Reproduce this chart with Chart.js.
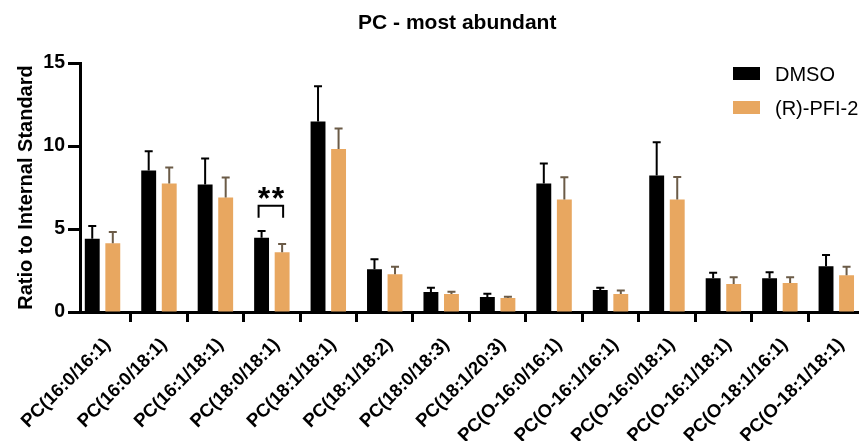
<!DOCTYPE html>
<html>
<head>
<meta charset="utf-8">
<script src="https://cdn.jsdelivr.net/npm/chart.js@4.4.1/dist/chart.umd.min.js"></script>
<style>
  html, body { margin: 0; padding: 0; background: #ffffff; }
  #wrap { width: 864px; height: 441px; }
</style>
</head>
<body>
<div id="wrap"><canvas id="c" width="864" height="441"></canvas></div>
<script>
// Lipid species on the x axis
const categories = [
  'PC(16:0/16:1)', 'PC(16:0/18:1)', 'PC(16:1/18:1)', 'PC(18:0/18:1)',
  'PC(18:1/18:1)', 'PC(18:1/18:2)', 'PC(18:0/18:3)', 'PC(18:1/20:3)',
  'PC(O-16:0/16:1)', 'PC(O-16:1/16:1)', 'PC(O-16:0/18:1)', 'PC(O-16:1/18:1)',
  'PC(O-18:1/16:1)', 'PC(O-18:1/18:1)'
];

// Mean ratio to internal standard and error (upper bar only)
const dmso    = [4.42, 8.52, 7.68, 4.48, 11.48, 2.58, 1.20, 0.90, 7.74, 1.32, 8.22, 2.04, 2.04, 2.76];
const dmsoErr = [0.76, 1.16, 1.56, 0.40, 2.12, 0.60, 0.26, 0.20, 1.20, 0.14, 2.00, 0.32, 0.36, 0.68];
const pfi     = [4.14, 7.74, 6.90, 3.60, 9.82, 2.28, 1.08, 0.84, 6.78, 1.08, 6.78, 1.68, 1.74, 2.22];
const pfiErr  = [0.68, 0.96, 1.20, 0.50, 1.24, 0.44, 0.14, 0.08, 1.34, 0.22, 1.36, 0.42, 0.36, 0.50];

// Significance markers: category index, bracket level (data units), label
const sigIndex = [3];
const sigLevel = [6.4];
const sigText  = ['**'];

// y axis range and tick step
const yMin = 0, yMax = 15, yStep = 5;

const FONT = "'Liberation Sans', Arial, Helvetica, sans-serif";

// Upward error bars with caps
const errorBars = {
  id: 'errorBars',
  afterDatasetsDraw(chart) {
    const ctx = chart.ctx;
    const y = chart.scales.y;
    chart.data.datasets.forEach((ds, di) => {
      const meta = chart.getDatasetMeta(di);
      ctx.save();
      ctx.strokeStyle = ds.errorColor;
      ctx.lineWidth = 2;
      meta.data.forEach((bar, j) => {
        const v = ds.data[j].y;
        const top = y.getPixelForValue(v + ds.errors[j]);
        ctx.beginPath();
        ctx.moveTo(bar.x, bar.y);
        ctx.lineTo(bar.x, top);
        ctx.moveTo(bar.x - 4, top);
        ctx.lineTo(bar.x + 4, top);
        ctx.stroke();
      });
      ctx.restore();
    });
  }
};

// Significance bracket and stars
const sigMarks = {
  id: 'sigMarks',
  afterDatasetsDraw(chart) {
    const ctx = chart.ctx;
    const y = chart.scales.y;
    const a = chart.getDatasetMeta(0).data;
    const b = chart.getDatasetMeta(1).data;
    sigIndex.forEach((idx, k) => {
      const x1 = a[idx].x - 3, x2 = b[idx].x + 1;
      const yTop = y.getPixelForValue(sigLevel[k]);
      const yLeg = yTop + 12;
      ctx.save();
      ctx.strokeStyle = '#000';
      ctx.lineWidth = 2;
      ctx.beginPath();
      ctx.moveTo(x1, yLeg);
      ctx.lineTo(x1, yTop);
      ctx.lineTo(x2, yTop);
      ctx.lineTo(x2, yLeg);
      ctx.stroke();
      ctx.fillStyle = '#000';
      ctx.font = 'bold 32px ' + FONT;
      ctx.textAlign = 'center';
      ctx.textBaseline = 'alphabetic';
      const stars = sigText[k].split('');
      const gap = 14;
      const cx = (x1 + x2) / 2;
      stars.forEach((s, n) => {
        ctx.fillText(s, cx + (n - (stars.length - 1) / 2) * gap, yTop + 3);
      });
      ctx.restore();
    });
  }
};

// Title and legend placed over the plot
const header = {
  id: 'header',
  afterDraw(chart) {
    const ctx = chart.ctx;
    const area = chart.chartArea;
    ctx.save();
    ctx.fillStyle = '#000';
    ctx.font = 'bold 21px ' + FONT;
    ctx.textAlign = 'center';
    ctx.textBaseline = 'alphabetic';
    ctx.fillText('PC - most abundant', (area.left + area.right) / 2 - 12, 29);

    ctx.font = '20px ' + FONT;
    ctx.textAlign = 'left';
    chart.data.datasets.forEach((ds, i) => {
      const top = 67 + i * 34;
      ctx.fillStyle = ds.backgroundColor;
      ctx.fillRect(733, top, 27, 13);
      ctx.fillStyle = '#000';
      ctx.fillText(ds.label, 775, top + 14);
    });
    ctx.restore();
  }
};

new Chart(document.getElementById('c'), {
  type: 'bar',
  data: {
    datasets: [
      {
        label: 'DMSO',
        data: dmso.map((v, i) => ({ x: i, y: v })),
        errors: dmsoErr,
        backgroundColor: '#000000',
        errorColor: '#000000'
      },
      {
        label: '(R)-PFI-2',
        data: pfi.map((v, i) => ({ x: i, y: v })),
        errors: pfiErr,
        backgroundColor: '#E8A760',
        errorColor: '#6b5b47'
      }
    ]
  },
  options: {
    responsive: false,
    animation: false,
    devicePixelRatio: 1,
    categoryPercentage: 0.728,
    barPercentage: 0.725,
    layout: { padding: { top: 63, left: 0, right: 0, bottom: 0 } },
    plugins: {
      legend: { display: false },
      title: { display: false },
      tooltip: { enabled: false }
    },
    scales: {
      x: {
        type: 'linear',
        offset: false,
        min: -0.399,
        max: 13.392,
        afterFit(s) { s.height = 129; },
        border: { display: true, width: 3, color: '#000' },
        grid: { drawOnChartArea: false, drawTicks: true, tickLength: 10, tickWidth: 3, tickColor: '#000' },
        ticks: {
          stepSize: 1,
          includeBounds: false,
          autoSkip: false,
          minRotation: 45,
          maxRotation: 45,
          padding: 12,
          labelOffset: 5,
          color: '#000',
          font: { family: FONT, size: 18.5, weight: 'bold' },
          callback: (v) => Number.isInteger(v) ? categories[v] : ''
        }
      },
      y: {
        min: yMin,
        max: yMax,
        afterFit(s) { s.width = 80; },
        border: { display: true, width: 3, color: '#000' },
        grid: { drawOnChartArea: false, drawTicks: true, tickLength: 12, tickWidth: 3, tickColor: '#000' },
        ticks: {
          stepSize: yStep,
          padding: 3,
          color: '#000',
          font: { family: FONT, size: 19.5, weight: 'bold' }
        },
        title: {
          display: true,
          text: 'Ratio to Internal Standard',
          color: '#000',
          padding: { top: 14, bottom: 0 },
          font: { family: FONT, size: 20, weight: 'bold' }
        }
      }
    }
  },
  plugins: [errorBars, sigMarks, header]
});
</script>
</body>
</html>
